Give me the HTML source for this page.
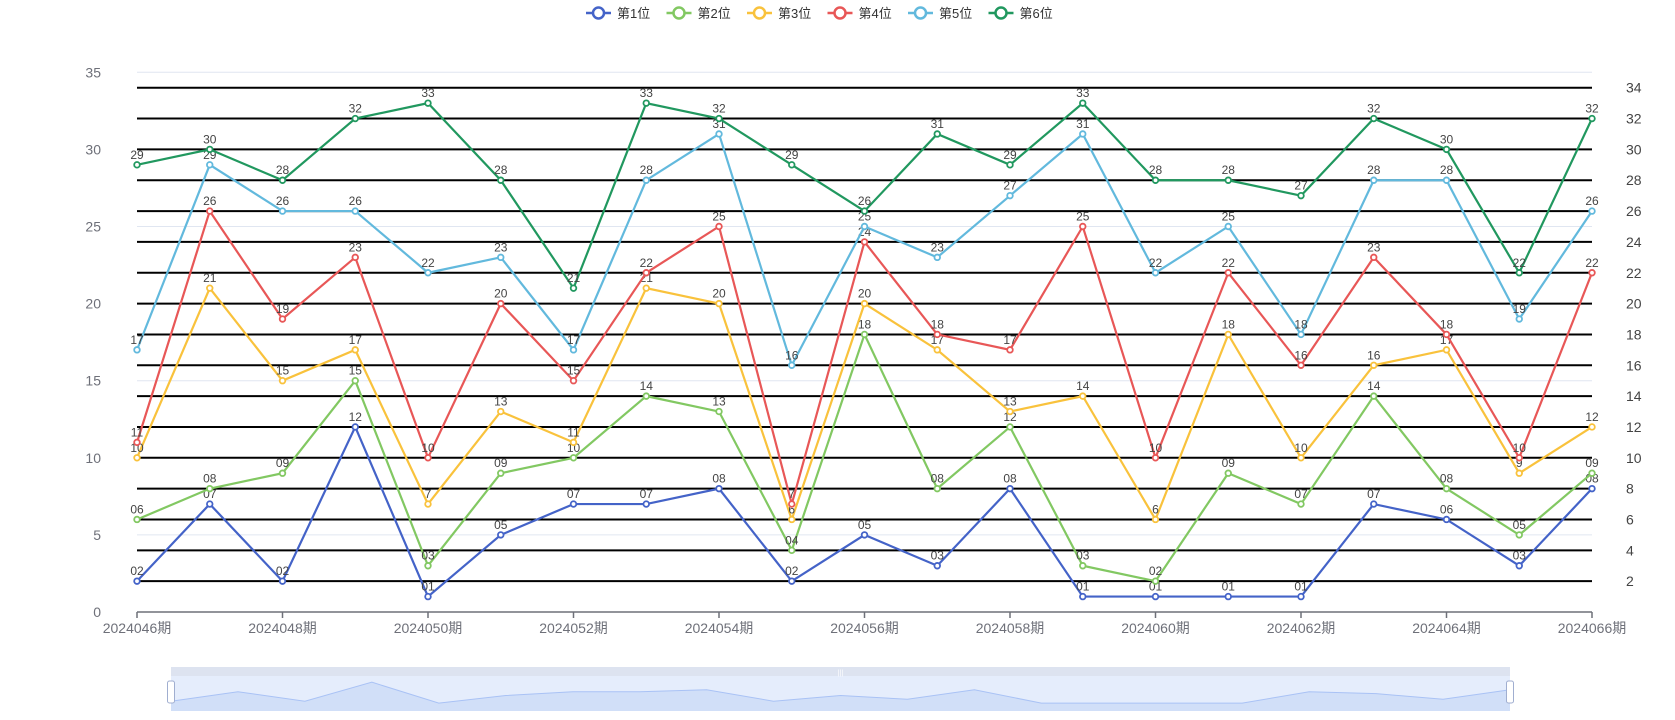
<!DOCTYPE html>
<html><head><meta charset="utf-8"><style>
html,body{margin:0;padding:0;background:#fff;width:1675px;height:720px;overflow:hidden}
svg{display:block;font-family:"Liberation Sans","Noto Sans CJK SC",sans-serif}
</style></head><body>
<svg id="chart" width="1675" height="720" viewBox="0 0 1675 720" xmlns="http://www.w3.org/2000/svg"></svg>
<script>
const categories = ["2024046期","2024047期","2024048期","2024049期","2024050期","2024051期","2024052期","2024053期","2024054期","2024055期","2024056期","2024057期","2024058期","2024059期","2024060期","2024061期","2024062期","2024063期","2024064期","2024065期","2024066期"];
const seriesNames = ["第1位","第2位","第3位","第4位","第5位","第6位"];
const pos1 = [2,7,2,12,1,5,7,7,8,2,5,3,8,1,1,1,1,7,6,3,8];
const pos2 = [6,8,9,15,3,9,10,14,13,4,18,8,12,3,2,9,7,14,8,5,9];
const pos3 = [10,21,15,17,7,13,11,21,20,6,20,17,13,14,6,18,10,16,17,9,12];
const pos4 = [11,26,19,23,10,20,15,22,25,7,24,18,17,25,10,22,16,23,18,10,22];
const pos5 = [17,29,26,26,22,23,17,28,31,16,25,23,27,31,22,25,18,28,28,19,26];
const pos6 = [29,30,28,32,33,28,21,33,32,29,26,31,29,33,28,28,27,32,30,22,32];
const leftTicks = [0,5,10,15,20,25,30,35];
const rightTicks = [2,4,6,8,10,12,14,16,18,20,22,24,26,28,30,32,34];
const allSeries = [pos1,pos2,pos3,pos4,pos5,pos6];
const colors = ["#4463c8","#82c862","#f9c23c","#e85757","#62b9dd","#21985f"];

const X0=137, X1=1592, Y0=612, Y1=72.3, VMAX=35;
const xs = i => X0 + (X1-X0)*i/(categories.length-1);
const ys = v => Y0 - (Y0-Y1)*v/VMAX;
const svg = document.getElementById('chart');
const NS='http://www.w3.org/2000/svg';
function mk(tag, attrs, parent){const e=document.createElementNS(NS,tag);for(const k in attrs)e.setAttribute(k,attrs[k]);(parent||svg).appendChild(e);return e;}

// light grid
leftTicks.forEach(t=>{
  const l=mk('line',{x1:X0,x2:X1,y1:ys(t),y2:ys(t),stroke:'#E0E6F1','stroke-width':1});
  
  
  const tx=mk('text',{x:101,y:ys(t)+5,'text-anchor':'end','font-size':14,fill:'#6e7079'});
  tx.textContent=t;
  
  
});
// black lines + right axis
rightTicks.forEach(t=>{
  const l=mk('line',{x1:X0,x2:X1,y1:ys(t),y2:ys(t),stroke:'#000','stroke-width':2});
  
  
  const tx=mk('text',{x:1626,y:ys(t)+5,'font-size':14,fill:'#444'});
  tx.textContent=t;
  
  
});
// x axis
const ax=mk('line',{x1:X0,x2:X1,y1:Y0,y2:Y0,stroke:'#6e7079','stroke-width':1.5});


categories.forEach((c,i)=>{
  if(i%2) return;
  const tk=mk('line',{x1:xs(i),x2:xs(i),y1:Y0,y2:Y0+6,stroke:'#6e7079','stroke-width':1.5});
  
  
  const tx=mk('text',{x:xs(i),y:Y0+21,'text-anchor':'middle','font-size':14,fill:'#6e7079'});
  tx.textContent=c;
  
  
});
// series
allSeries.forEach((data,si)=>{
  const g=mk('g',{});
  
  
  const p=mk('polyline',{points:data.map((v,i)=>xs(i)+','+ys(v)).join(' '),fill:'none',stroke:colors[si],'stroke-width':2.2},g);
  
  
  data.forEach((v,i)=>{
    const c=mk('circle',{cx:xs(i),cy:ys(v),r:2.8,fill:'#fff',stroke:colors[si],'stroke-width':1.8},g);
    
    
    const t=mk('text',{x:xs(i),y:ys(v)-6,'text-anchor':'middle','font-size':12,fill:'#444'},g);
    t.textContent=String(v).padStart(si<2?2:1,'0');
    
    
  });
});
// legend
const lg=mk('g',{});


seriesNames.forEach((n,i)=>{
  const x=586+i*80.5, y=13;
  const g=mk('g',{},lg);
  
  
  mk('line',{x1:x,x2:x+25,y1:y,y2:y,stroke:colors[i],'stroke-width':2.5},g);
  mk('circle',{cx:x+12.5,cy:y,r:5.5,fill:'#fff',stroke:colors[i],'stroke-width':2.5},g);
  const t=mk('text',{x:x+31,y:y+5,'font-size':13,fill:'#333'},g);
  t.textContent=n;
});
// data zoom slider
const SX0=171, SX1=1510, ST=667, SB=711;
const dz=mk('g',{});


mk('rect',{x:SX0,y:ST,width:SX1-SX0,height:SB-ST,fill:'#e5edfc'},dz);
mk('rect',{x:SX0,y:ST,width:SX1-SX0,height:9,fill:'#dde3f0'},dz);
const sx=i=>SX0+(SX1-SX0)*i/(categories.length-1);
const sy=v=>705-v*1.9;
const pts=pos1.map((v,i)=>sx(i)+','+sy(v)).join(' ');
mk('polygon',{points:SX0+','+SB+' '+pts+' '+SX1+','+SB,fill:'#d1dff8'},dz);
mk('polyline',{points:pts,fill:'none',stroke:'#a9c2f5','stroke-width':1},dz);
mk('text',{x:(SX0+SX1)/2,y:675,'text-anchor':'middle','font-size':7,fill:'#fff'},dz).textContent='|||';
[SX0,SX1].forEach(x=>{
  const h=mk('rect',{x:x-3.5,y:681,width:7,height:22,rx:2,fill:'#fff',stroke:'#a0aed0','stroke-width':1},dz);
  
  
});
</script>
</body></html>
